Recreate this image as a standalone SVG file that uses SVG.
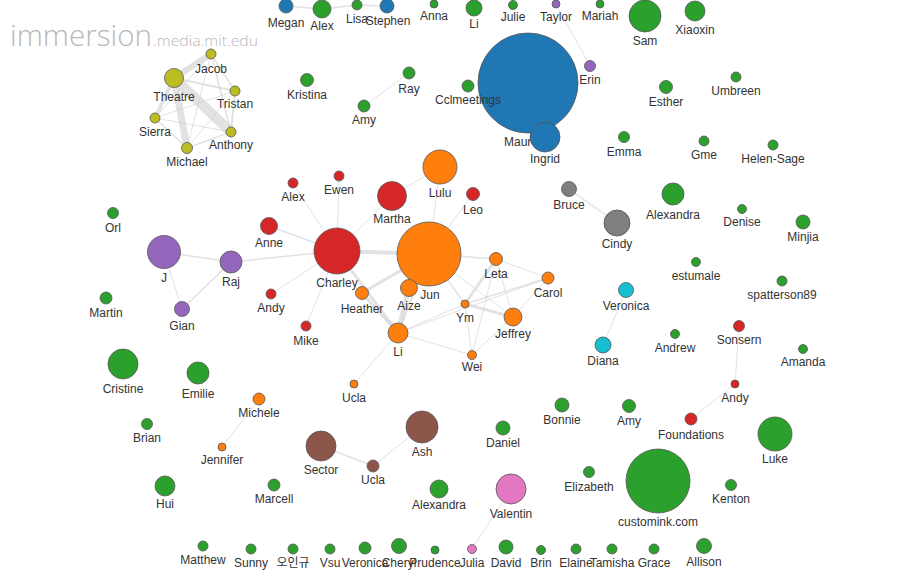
<svg xmlns="http://www.w3.org/2000/svg" width="910" height="571" viewBox="0 0 910 571">
<style>
.e{stroke:#cfcfcf;stroke-opacity:0.6;fill:none;stroke-linecap:round}
circle{stroke:#555;stroke-width:0.8}
text{font-family:"Liberation Sans",Arial,sans-serif;font-size:12px;fill:#333;text-anchor:middle}
.B{fill:#1f77b4}.O{fill:#ff7f0e}.G{fill:#2ca02c}.R{fill:#d62728}.P{fill:#9467bd}
.Br{fill:#8c564b}.Pk{fill:#e377c2}.Gy{fill:#7f7f7f}.Ol{fill:#bcbd22}.C{fill:#17becf}
text.wm1{font-family:"Open Sans","DejaVu Sans",sans-serif;fill:#b8b8b8;text-anchor:start;font-weight:300;font-size:30px}
text.wm2{font-family:"Open Sans","DejaVu Sans",sans-serif;fill:#b8b8b8;text-anchor:start;font-weight:300;font-size:15px}
</style>
<rect width="910" height="571" fill="#fff"/>
<g id="watermark">
<text class="wm1" x="10" y="46" textLength="142" lengthAdjust="spacingAndGlyphs">immersion</text>
<text class="wm2" x="153" y="46" textLength="105" lengthAdjust="spacingAndGlyphs">.media.mit.edu</text>
</g>
<g id="connectors">
<line class="e" x1="174" y1="78" x2="231" y2="132" stroke-width="10"/>
<line class="e" x1="174" y1="78" x2="187" y2="148" stroke-width="7"/>
<line class="e" x1="174" y1="78" x2="211" y2="54" stroke-width="6"/>
<line class="e" x1="174" y1="78" x2="155" y2="118" stroke-width="4"/>
<line class="e" x1="174" y1="78" x2="235" y2="91" stroke-width="2"/>
<line class="e" x1="211" y1="54" x2="235" y2="91" stroke-width="1.5"/>
<line class="e" x1="211" y1="54" x2="155" y2="118" stroke-width="1"/>
<line class="e" x1="211" y1="54" x2="231" y2="132" stroke-width="1.5"/>
<line class="e" x1="211" y1="54" x2="187" y2="148" stroke-width="1"/>
<line class="e" x1="235" y1="91" x2="155" y2="118" stroke-width="1"/>
<line class="e" x1="235" y1="91" x2="231" y2="132" stroke-width="2"/>
<line class="e" x1="235" y1="91" x2="187" y2="148" stroke-width="1"/>
<line class="e" x1="155" y1="118" x2="231" y2="132" stroke-width="1"/>
<line class="e" x1="155" y1="118" x2="187" y2="148" stroke-width="1.5"/>
<line class="e" x1="187" y1="148" x2="231" y2="132" stroke-width="1.5"/>
<line class="e" x1="286" y1="6" x2="322" y2="9" stroke-width="1.5"/>
<line class="e" x1="322" y1="9" x2="357" y2="5" stroke-width="1.5"/>
<line class="e" x1="357" y1="5" x2="387" y2="6" stroke-width="1.5"/>
<line class="e" x1="556" y1="4" x2="590" y2="66" stroke-width="1"/>
<line class="e" x1="409" y1="73" x2="364" y2="106" stroke-width="1"/>
<line class="e" x1="164" y1="252" x2="231" y2="262" stroke-width="1.5"/>
<line class="e" x1="164" y1="252" x2="182" y2="309" stroke-width="1"/>
<line class="e" x1="231" y1="262" x2="182" y2="309" stroke-width="1.5"/>
<line class="e" x1="231" y1="262" x2="337" y2="251" stroke-width="1.5"/>
<line class="e" x1="337" y1="251" x2="293" y2="183" stroke-width="1"/>
<line class="e" x1="337" y1="251" x2="339" y2="176" stroke-width="1"/>
<line class="e" x1="337" y1="251" x2="392" y2="196" stroke-width="1"/>
<line class="e" x1="337" y1="251" x2="269" y2="226" stroke-width="1.5"/>
<line class="e" x1="337" y1="251" x2="271" y2="294" stroke-width="1"/>
<line class="e" x1="337" y1="251" x2="306" y2="326" stroke-width="1"/>
<line class="e" x1="337" y1="251" x2="429" y2="254" stroke-width="4"/>
<line class="e" x1="337" y1="251" x2="398" y2="333" stroke-width="3"/>
<line class="e" x1="392" y1="196" x2="440" y2="167" stroke-width="1"/>
<line class="e" x1="440" y1="167" x2="429" y2="254" stroke-width="1"/>
<line class="e" x1="473" y1="194" x2="429" y2="254" stroke-width="1"/>
<line class="e" x1="429" y1="254" x2="362" y2="293" stroke-width="3"/>
<line class="e" x1="362" y1="293" x2="398" y2="333" stroke-width="3"/>
<line class="e" x1="409" y1="288" x2="398" y2="333" stroke-width="5"/>
<line class="e" x1="429" y1="254" x2="398" y2="333" stroke-width="2"/>
<line class="e" x1="429" y1="254" x2="496" y2="259" stroke-width="1.5"/>
<line class="e" x1="429" y1="254" x2="465" y2="304" stroke-width="1.5"/>
<line class="e" x1="429" y1="254" x2="513" y2="317" stroke-width="1"/>
<line class="e" x1="398" y1="333" x2="465" y2="304" stroke-width="1"/>
<line class="e" x1="398" y1="333" x2="548" y2="278" stroke-width="1"/>
<line class="e" x1="398" y1="333" x2="472" y2="355" stroke-width="1"/>
<line class="e" x1="398" y1="333" x2="354" y2="384" stroke-width="1"/>
<line class="e" x1="465" y1="304" x2="496" y2="259" stroke-width="3"/>
<line class="e" x1="465" y1="304" x2="513" y2="317" stroke-width="3"/>
<line class="e" x1="465" y1="304" x2="548" y2="278" stroke-width="1.5"/>
<line class="e" x1="465" y1="304" x2="472" y2="355" stroke-width="1"/>
<line class="e" x1="496" y1="259" x2="513" y2="317" stroke-width="1"/>
<line class="e" x1="496" y1="259" x2="472" y2="355" stroke-width="1"/>
<line class="e" x1="496" y1="259" x2="548" y2="278" stroke-width="1"/>
<line class="e" x1="548" y1="278" x2="513" y2="317" stroke-width="1"/>
<line class="e" x1="513" y1="317" x2="472" y2="355" stroke-width="1"/>
<line class="e" x1="569" y1="189" x2="617" y2="223" stroke-width="1.5"/>
<line class="e" x1="626" y1="290" x2="603" y2="345" stroke-width="1"/>
<line class="e" x1="739" y1="326" x2="735" y2="384" stroke-width="1"/>
<line class="e" x1="735" y1="384" x2="691" y2="419" stroke-width="1"/>
<line class="e" x1="259" y1="399" x2="222" y2="447" stroke-width="1"/>
<line class="e" x1="321" y1="446" x2="373" y2="466" stroke-width="1.5"/>
<line class="e" x1="373" y1="466" x2="422" y2="427" stroke-width="1"/>
<line class="e" x1="472" y1="549" x2="511" y2="489" stroke-width="1"/>
</g>
<g id="n-maur"><circle class="B" cx="528" cy="83" r="50"/><text x="504" y="146" style="text-anchor:start">Maur</text></g>
<g id="n-megan"><circle class="B" cx="286" cy="6" r="7"/><text x="286" y="27">Megan</text></g>
<g id="n-alex1"><circle class="G" cx="322" cy="9" r="9"/><text x="322" y="30">Alex</text></g>
<g id="n-lisa"><circle class="G" cx="357" cy="5" r="5"/><text x="357" y="23">Lisa</text></g>
<g id="n-stephen"><circle class="B" cx="387" cy="6" r="7"/><text x="388" y="25">Stephen</text></g>
<g id="n-anna"><circle class="G" cx="434" cy="4" r="4"/><text x="434" y="20">Anna</text></g>
<g id="n-li1"><circle class="G" cx="474" cy="8" r="8"/><text x="474" y="28">Li</text></g>
<g id="n-julie"><circle class="G" cx="513" cy="5" r="4.5"/><text x="513" y="21">Julie</text></g>
<g id="n-taylor"><circle class="P" cx="556" cy="4" r="4"/><text x="556" y="21">Taylor</text></g>
<g id="n-mariah"><circle class="G" cx="600" cy="4" r="4"/><text x="600" y="20">Mariah</text></g>
<g id="n-sam"><circle class="G" cx="645" cy="16" r="16"/><text x="645" y="45">Sam</text></g>
<g id="n-xiaoxin"><circle class="G" cx="695" cy="11" r="10"/><text x="695" y="34">Xiaoxin</text></g>
<g id="n-erin"><circle class="P" cx="590" cy="66" r="5.5"/><text x="590" y="84">Erin</text></g>
<g id="n-cclmeetings"><circle class="G" cx="468" cy="86" r="6"/><text x="468" y="104">Cclmeetings</text></g>
<g id="n-ingrid"><circle class="B" cx="545" cy="137" r="15"/><text x="545" y="163">Ingrid</text></g>
<g id="n-ray"><circle class="G" cx="409" cy="73" r="6"/><text x="409" y="93">Ray</text></g>
<g id="n-amy1"><circle class="G" cx="364" cy="106" r="6"/><text x="364" y="124">Amy</text></g>
<g id="n-kristina"><circle class="G" cx="307" cy="80" r="6.5"/><text x="307" y="99">Kristina</text></g>
<g id="n-esther"><circle class="G" cx="666" cy="87" r="6.5"/><text x="666" y="106">Esther</text></g>
<g id="n-umbreen"><circle class="G" cx="736" cy="77" r="5"/><text x="736" y="95">Umbreen</text></g>
<g id="n-emma"><circle class="G" cx="624" cy="137" r="5.5"/><text x="624" y="156">Emma</text></g>
<g id="n-gme"><circle class="G" cx="704" cy="141" r="5"/><text x="704" y="159">Gme</text></g>
<g id="n-helen"><circle class="G" cx="773" cy="145" r="5"/><text x="773" y="163">Helen-Sage</text></g>
<g id="n-jacob"><circle class="Ol" cx="211" cy="54" r="5"/><text x="211" y="73">Jacob</text></g>
<g id="n-theatre"><circle class="Ol" cx="174" cy="78" r="9.5"/><text x="174" y="101">Theatre</text></g>
<g id="n-tristan"><circle class="Ol" cx="235" cy="91" r="5"/><text x="235" y="108">Tristan</text></g>
<g id="n-sierra"><circle class="Ol" cx="155" cy="118" r="5"/><text x="155" y="136">Sierra</text></g>
<g id="n-anthony"><circle class="Ol" cx="231" cy="132" r="5"/><text x="231" y="149">Anthony</text></g>
<g id="n-michael"><circle class="Ol" cx="187" cy="148" r="5.5"/><text x="187" y="166">Michael</text></g>
<g id="n-orl"><circle class="G" cx="113" cy="213" r="5.5"/><text x="113" y="232">Orl</text></g>
<g id="n-j"><circle class="P" cx="164" cy="252" r="16.5"/><text x="164" y="282">J</text></g>
<g id="n-raj"><circle class="P" cx="231" cy="262" r="11"/><text x="231" y="286">Raj</text></g>
<g id="n-gian"><circle class="P" cx="182" cy="309" r="7.5"/><text x="182" y="330">Gian</text></g>
<g id="n-martin"><circle class="G" cx="106" cy="298" r="6"/><text x="106" y="317">Martin</text></g>
<g id="n-cristine"><circle class="G" cx="123" cy="364" r="15"/><text x="123" y="393">Cristine</text></g>
<g id="n-emilie"><circle class="G" cx="198" cy="373" r="11"/><text x="198" y="398">Emilie</text></g>
<g id="n-alex2"><circle class="R" cx="293" cy="183" r="5"/><text x="293" y="201">Alex</text></g>
<g id="n-ewen"><circle class="R" cx="339" cy="176" r="5"/><text x="339" y="194">Ewen</text></g>
<g id="n-martha"><circle class="R" cx="392" cy="196" r="14.5"/><text x="392" y="223">Martha</text></g>
<g id="n-lulu"><circle class="O" cx="440" cy="167" r="17"/><text x="440" y="197">Lulu</text></g>
<g id="n-leo"><circle class="R" cx="473" cy="194" r="6.5"/><text x="473" y="214">Leo</text></g>
<g id="n-anne"><circle class="R" cx="269" cy="226" r="8.5"/><text x="269" y="247">Anne</text></g>
<g id="n-charley"><circle class="R" cx="337" cy="251" r="23"/><text x="337" y="287">Charley</text></g>
<g id="n-jun"><circle class="O" cx="429" cy="254" r="32"/><text x="430" y="299">Jun</text></g>
<g id="n-heather"><circle class="O" cx="362" cy="293" r="6.5"/><text x="362" y="313">Heather</text></g>
<g id="n-aize"><circle class="O" cx="409" cy="288" r="8.5"/><text x="409" y="310">Aize</text></g>
<g id="n-andy1"><circle class="R" cx="271" cy="294" r="5"/><text x="271" y="312">Andy</text></g>
<g id="n-mike"><circle class="R" cx="306" cy="326" r="5"/><text x="306" y="345">Mike</text></g>
<g id="n-li2"><circle class="O" cx="398" cy="333" r="10"/><text x="398" y="356">Li</text></g>
<g id="n-ucla1"><circle class="O" cx="354" cy="384" r="4"/><text x="354" y="402">Ucla</text></g>
<g id="n-leta"><circle class="O" cx="496" cy="259" r="6.5"/><text x="496" y="278">Leta</text></g>
<g id="n-carol"><circle class="O" cx="548" cy="278" r="6"/><text x="548" y="297">Carol</text></g>
<g id="n-ym"><circle class="O" cx="465" cy="304" r="4"/><text x="465" y="322">Ym</text></g>
<g id="n-jeffrey"><circle class="O" cx="513" cy="317" r="9"/><text x="513" y="338">Jeffrey</text></g>
<g id="n-wei"><circle class="O" cx="472" cy="355" r="4.5"/><text x="472" y="371">Wei</text></g>
<g id="n-bruce"><circle class="Gy" cx="569" cy="189" r="7.5"/><text x="569" y="209">Bruce</text></g>
<g id="n-cindy"><circle class="Gy" cx="617" cy="223" r="13"/><text x="617" y="248">Cindy</text></g>
<g id="n-alexandra1"><circle class="G" cx="673" cy="194" r="11"/><text x="673" y="219">Alexandra</text></g>
<g id="n-veronica1"><circle class="C" cx="626" cy="290" r="7.5"/><text x="626" y="310">Veronica</text></g>
<g id="n-diana"><circle class="C" cx="603" cy="345" r="8"/><text x="603" y="365">Diana</text></g>
<g id="n-andrew"><circle class="G" cx="675" cy="334" r="4.5"/><text x="675" y="352">Andrew</text></g>
<g id="n-estumale"><circle class="G" cx="696" cy="262" r="4.5"/><text x="696" y="280">estumale</text></g>
<g id="n-denise"><circle class="G" cx="742" cy="209" r="4.5"/><text x="742" y="226">Denise</text></g>
<g id="n-minjia"><circle class="G" cx="803" cy="222" r="7"/><text x="803" y="241">Minjia</text></g>
<g id="n-spatterson89"><circle class="G" cx="782" cy="281" r="5"/><text x="782" y="299">spatterson89</text></g>
<g id="n-sonsern"><circle class="R" cx="739" cy="326" r="5.5"/><text x="739" y="344">Sonsern</text></g>
<g id="n-amanda"><circle class="G" cx="803" cy="349" r="4.5"/><text x="803" y="366">Amanda</text></g>
<g id="n-andy2"><circle class="R" cx="735" cy="384" r="4"/><text x="735" y="402">Andy</text></g>
<g id="n-foundations"><circle class="R" cx="691" cy="419" r="6"/><text x="691" y="439">Foundations</text></g>
<g id="n-luke"><circle class="G" cx="775" cy="434" r="17"/><text x="775" y="463">Luke</text></g>
<g id="n-kenton"><circle class="G" cx="731" cy="485" r="5.5"/><text x="731" y="503">Kenton</text></g>
<g id="n-allison"><circle class="G" cx="704" cy="546" r="7.5"/><text x="704" y="566">Allison</text></g>
<g id="n-brian"><circle class="G" cx="147" cy="424" r="5.5"/><text x="147" y="442">Brian</text></g>
<g id="n-jennifer"><circle class="O" cx="222" cy="447" r="4"/><text x="222" y="464">Jennifer</text></g>
<g id="n-michele"><circle class="O" cx="259" cy="399" r="6"/><text x="259" y="417">Michele</text></g>
<g id="n-hui"><circle class="G" cx="165" cy="486" r="10"/><text x="165" y="508">Hui</text></g>
<g id="n-matthew"><circle class="G" cx="203" cy="546" r="5"/><text x="203" y="564">Matthew</text></g>
<g id="n-sector"><circle class="Br" cx="321" cy="446" r="15"/><text x="321" y="474">Sector</text></g>
<g id="n-ucla2"><circle class="Br" cx="373" cy="466" r="6"/><text x="373" y="484">Ucla</text></g>
<g id="n-ash"><circle class="Br" cx="422" cy="427" r="16"/><text x="422" y="456">Ash</text></g>
<g id="n-marcell"><circle class="G" cx="274" cy="485" r="6"/><text x="274" y="503">Marcell</text></g>
<g id="n-alexandra2"><circle class="G" cx="439" cy="489" r="9"/><text x="439" y="509">Alexandra</text></g>
<g id="n-daniel"><circle class="G" cx="503" cy="428" r="7"/><text x="503" y="447">Daniel</text></g>
<g id="n-bonnie"><circle class="G" cx="562" cy="405" r="7"/><text x="562" y="424">Bonnie</text></g>
<g id="n-amy2"><circle class="G" cx="629" cy="406" r="6.5"/><text x="629" y="425">Amy</text></g>
<g id="n-elizabeth"><circle class="G" cx="589" cy="472" r="5.5"/><text x="589" y="491">Elizabeth</text></g>
<g id="n-customink"><circle class="G" cx="658" cy="481" r="32"/><text x="658" y="526">customink.com</text></g>
<g id="n-valentin"><circle class="Pk" cx="511" cy="489" r="15"/><text x="511" y="518">Valentin</text></g>
<g id="n-sunny"><circle class="G" cx="251" cy="549" r="5"/><text x="251" y="567">Sunny</text></g>
<g id="n-oingyu"><circle class="G" cx="293" cy="549" r="5"/><text x="293" y="567" style="font-family:'Liberation Sans','Noto Sans CJK KR',sans-serif">오인규</text></g>
<g id="n-vsu"><circle class="G" cx="330" cy="549" r="5"/><text x="330" y="567">Vsu</text></g>
<g id="n-veronica2"><circle class="G" cx="365" cy="548" r="6"/><text x="365" y="567">Veronica</text></g>
<g id="n-cheryl"><circle class="G" cx="399" cy="546" r="7.5"/><text x="399" y="567">Cheryl</text></g>
<g id="n-prudence"><circle class="G" cx="435" cy="550" r="4"/><text x="435" y="567">Prudence</text></g>
<g id="n-julia"><circle class="Pk" cx="472" cy="549" r="4.5"/><text x="472" y="567">Julia</text></g>
<g id="n-david"><circle class="G" cx="506" cy="547" r="7"/><text x="506" y="567">David</text></g>
<g id="n-brin"><circle class="G" cx="541" cy="550" r="4.5"/><text x="541" y="567">Brin</text></g>
<g id="n-elaine"><circle class="G" cx="576" cy="549" r="5"/><text x="576" y="567">Elaine</text></g>
<g id="n-tamisha"><circle class="G" cx="612" cy="549" r="5"/><text x="612" y="567">Tamisha</text></g>
<g id="n-grace"><circle class="G" cx="654" cy="549" r="5"/><text x="654" y="567">Grace</text></g>
</svg>
